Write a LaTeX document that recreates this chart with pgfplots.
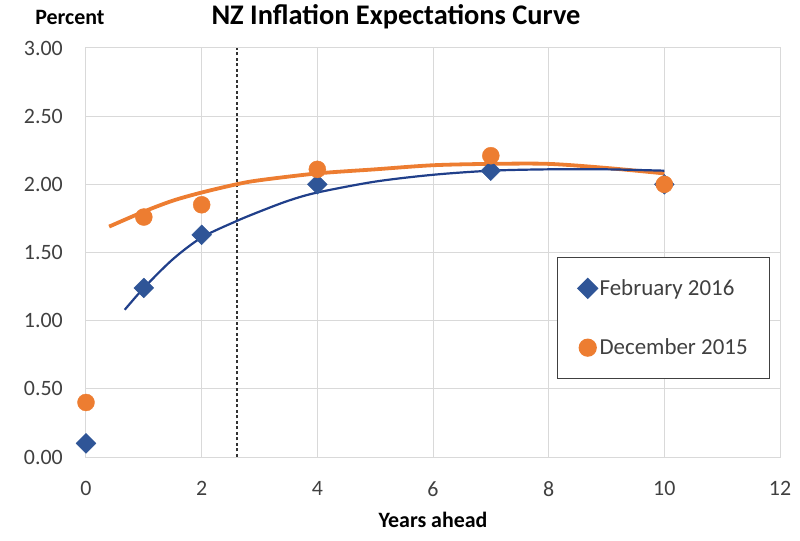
\documentclass[border=0pt]{standalone}
\usepackage{fontspec}
\setmainfont{Carlito}
\usepackage{pgfplots}
\pgfplotsset{compat=1.18}
\definecolor{febblue}{HTML}{2F5597}
\definecolor{febline}{HTML}{203F8A}
\definecolor{decorange}{HTML}{ED7D31}
\definecolor{gridgray}{HTML}{D9D9D9}
\definecolor{ticktext}{HTML}{404040}

\begin{document}
\begin{tikzpicture}
\begin{axis}[
  scale only axis,
  width=694bp, height=409bp,
  xmin=0, xmax=12, ymin=0, ymax=3,
  xtick={0,2,4,6,8,10,12},
  ytick={0,0.5,1,1.5,2,2.5,3},
  yticklabel style={/pgf/number format/fixed, /pgf/number format/fixed zerofill, /pgf/number format/precision=2},
  /pgf/number format/assume math mode=true,
  tick label style={font=\fontsize{22}{26}\selectfont, text=ticktext, inner sep=0pt},
  yticklabel style={anchor=east, xshift=-23bp},
  xticklabel style={anchor=north, yshift=-24bp},
  major tick length=0pt,
  grid=major,
  grid style={gridgray, line width=1bp},
  axis line style={draw=gridgray, line width=1bp},
  clip=false,
  legend style={
    at={(0.679,0.489)}, anchor=north west,
    draw=darkgray, line width=1.2bp,
    font=\fontsize{23}{27}\selectfont, text=ticktext,
    inner xsep=20bp, inner ysep=20bp,
    row sep=38bp,
    legend cell align=left,
  },
]
% dashed marker line
\addplot[black!80, dash pattern=on 3bp off 2.5bp, line width=1.3bp, forget plot] coordinates {(2.61,0) (2.61,3)};

% fitted curves
\addplot[decorange, line width=3.8bp, smooth, forget plot] coordinates {
  (0.4,1.69) (1,1.80) (1.5,1.88) (2,1.94) (2.6,2.00) (3,2.03) (4,2.08)
  (5,2.11) (6,2.14) (7,2.15) (8,2.15) (9,2.12) (10,2.08)
};
\addplot[febline, line width=2.2bp, smooth, forget plot] coordinates {
  (0.67,1.08) (1,1.24) (1.5,1.45) (2,1.61) (2.6,1.73) (3,1.80) (3.5,1.88)
  (4,1.94) (5,2.02) (6,2.07) (7,2.10) (8,2.11) (9,2.11) (10,2.10)
};

% survey points
\addplot[only marks, mark=square*, mark size=7bp,
  mark options={rotate=45, fill=febblue, draw=febblue}] coordinates {
  (0,0.10) (1,1.24) (2,1.63) (4,2.00) (7,2.10) (10,2.00)
};
\addlegendentry{February 2016}
\addplot[only marks, mark=*, mark size=8.5bp,
  mark options={fill=decorange, draw=decorange}] coordinates {
  (0,0.40) (1,1.76) (2,1.85) (4,2.11) (7,2.21) (10,2.00)
};
\addlegendentry{December 2015}
\end{axis}
\node[font=\bfseries\fontsize{28.5}{32}\selectfont] at (310bp,440bp) {NZ Inflation Expectations Curve};
\node[font=\bfseries\fontsize{22}{26}\selectfont] at (-16bp,440bp) {Percent};
\node[font=\bfseries\fontsize{22}{26}\selectfont] at (347bp,-63bp) {Years ahead};
\pgfresetboundingbox
\path[use as bounding box] (-86bp,-84bp) rectangle (714bp,457bp);
\end{tikzpicture}
\end{document}
